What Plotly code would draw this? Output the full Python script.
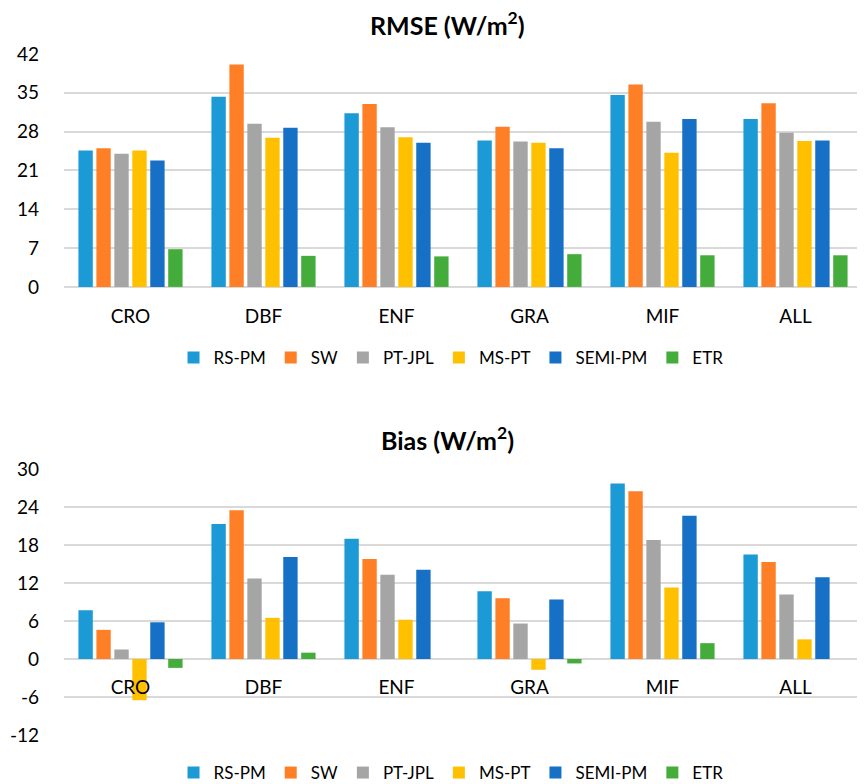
import plotly.graph_objects as go

categories = ["CRO", "DBF", "ENF", "GRA", "MIF", "ALL"]
models = ["RS-PM", "SW", "PT-JPL", "MS-PT", "SEMI-PM", "ETR"]
colors = ["#1C9AD6", "#FF7F27", "#A5A5A5", "#FFC000", "#1671C6", "#43AC3B"]

rmse_rs_pm = [24.6, 34.3, 31.3, 26.4, 34.6, 30.3]
rmse_sw = [25.0, 40.1, 33.0, 28.9, 36.5, 33.1]
rmse_pt_jpl = [24.0, 29.4, 28.8, 26.2, 29.8, 27.8]
rmse_ms_pt = [24.6, 26.9, 27.0, 26.0, 24.2, 26.3]
rmse_semi_pm = [22.8, 28.7, 26.0, 25.0, 30.3, 26.4]
rmse_etr = [6.8, 5.6, 5.5, 5.9, 5.7, 5.7]

bias_rs_pm = [7.7, 21.3, 19.0, 10.7, 27.7, 16.5]
bias_sw = [4.6, 23.5, 15.8, 9.6, 26.5, 15.3]
bias_pt_jpl = [1.5, 12.7, 13.3, 5.6, 18.8, 10.2]
bias_ms_pt = [-6.5, 6.5, 6.2, -1.7, 11.3, 3.1]
bias_semi_pm = [5.8, 16.1, 14.1, 9.4, 22.6, 12.9]
bias_etr = [-1.4, 1.0, 0.0, -0.7, 2.5, 0.0]

rmse_ticks = [0, 7, 14, 21, 28, 35, 42]
bias_ticks = [-12, -6, 0, 6, 12, 18, 24, 30]
bias_tick_labels = ["-12", "-6", "0", "6", "12", "18", "24", "30"]

rmse_series = [rmse_rs_pm, rmse_sw, rmse_pt_jpl, rmse_ms_pt, rmse_semi_pm, rmse_etr]
bias_series = [bias_rs_pm, bias_sw, bias_pt_jpl, bias_ms_pt, bias_semi_pm, bias_etr]

FONT = "Lato"
GRID = "#D9D9D9"
TFS = 19   # tick font size
LFS = 17   # legend font size

fig = go.Figure()
for name, col, vals in zip(models, colors, rmse_series):
    fig.add_trace(go.Bar(x=categories, y=vals, name=name, marker_color=col,
                         marker_line_width=0,
                         xaxis="x", yaxis="y", legend="legend"))
for name, col, vals in zip(models, colors, bias_series):
    fig.add_trace(go.Bar(x=categories, y=vals, name=name, marker_color=col,
                         marker_line_width=0,
                         xaxis="x2", yaxis="y2", legend="legend2"))

top_dom = [0.658, 1.0]
bot_dom = [0.0, 0.3906]
zero_pos = bot_dom[0] + (bot_dom[1] - bot_dom[0]) * 12 / 42

fig.update_layout(
    width=865, height=784,
    margin=dict(l=56, r=11, t=46, b=57, autoexpand=False),
    paper_bgcolor="white", plot_bgcolor="white",
    font=dict(family=FONT, size=TFS, color="#000000"),
    barmode="group", bargap=0.19, bargroupgap=0.2,
    showlegend=True,
    xaxis=dict(domain=[0, 1], anchor="y", showgrid=False, showline=False,
               ticks="", ticklabelstandoff=16, tickfont=dict(size=TFS)),
    yaxis=dict(domain=top_dom, range=[0, 42], tickvals=rmse_ticks,
               showgrid=True, gridcolor=GRID, gridwidth=1.5,
               zeroline=True, zerolinecolor=GRID, zerolinewidth=1.5,
               ticks="", ticklabelstandoff=24, tickfont=dict(size=TFS)),
    xaxis2=dict(domain=[0, 1], anchor="free", position=zero_pos, showgrid=False,
                showline=False, ticks="", ticklabelstandoff=15,
                tickfont=dict(size=TFS)),
    yaxis2=dict(domain=bot_dom, range=[-12, 30], tickvals=bias_ticks,
                ticktext=bias_tick_labels,
                showgrid=True, gridcolor=GRID, gridwidth=1.5,
                zeroline=True, zerolinecolor=GRID, zerolinewidth=1.5,
                ticks="", ticklabelstandoff=24, tickfont=dict(size=TFS)),
    legend=dict(orientation="h", x=0.485, xanchor="center", y=0.5536, yanchor="middle",
                font=dict(size=LFS), itemwidth=30, tracegroupgap=0),
    legend2=dict(orientation="h", x=0.485, xanchor="center", y=-0.0558, yanchor="middle",
                 font=dict(size=LFS), itemwidth=30, tracegroupgap=0),
    annotations=[
        dict(text="<b>RMSE (W/m<sup>2</sup>)</b>", xref="paper", yref="paper",
             x=0.48, y=1.0, yshift=31, yanchor="middle", showarrow=False,
             font=dict(size=25)),
        dict(text="<b>Bias (W/m<sup>2</sup>)</b>", xref="paper", yref="paper",
             x=0.48, y=bot_dom[1], yshift=31, yanchor="middle", showarrow=False,
             font=dict(size=25)),
    ],
)

fig.write_html("out.html")
